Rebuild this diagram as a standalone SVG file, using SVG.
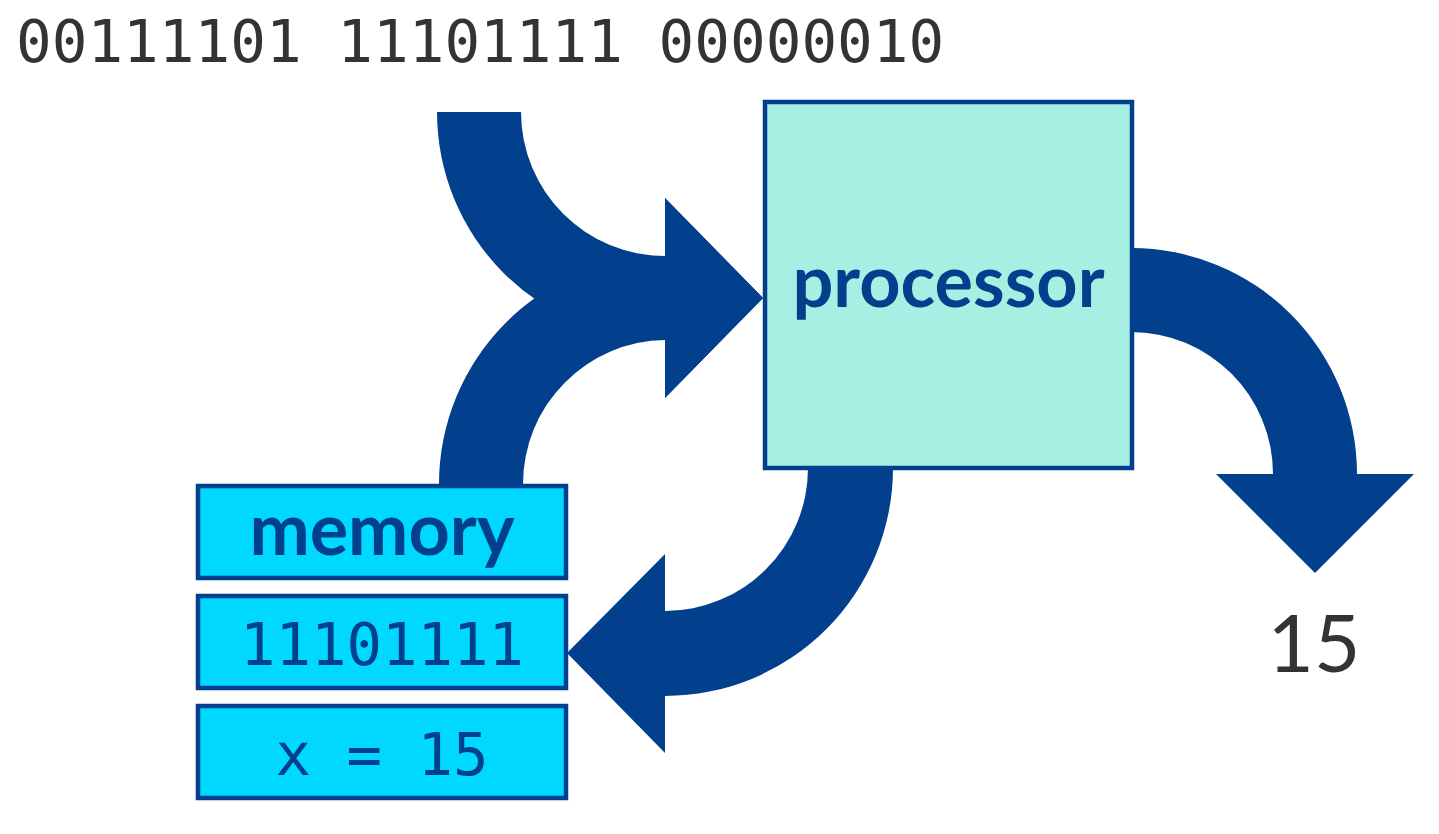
<svg xmlns="http://www.w3.org/2000/svg" width="1439" height="834" viewBox="0 0 1439 834">
<style>
.arrow{fill:#023f8d}
.proc{fill:#a7efe2;stroke:#023f8d;stroke-width:4.5}
.mem{fill:#00d8ff;stroke:#023f8d;stroke-width:4.5}
.label{font-family:Lato,"Open Sans",sans-serif;font-weight:700;fill:#023f8d;text-anchor:middle}
.mono{font-family:"DejaVu Sans Mono","Liberation Mono",monospace;text-anchor:middle}
</style>
<rect width="1439" height="834" fill="#ffffff"/>
<text x="16" y="62" font-family="DejaVu Sans Mono, Liberation Mono, monospace" font-size="59.3" fill="#333333">00111101 11101111 00000010</text>
<g id="connectors">
<path class="arrow" d="M437,112 L521,112 A144 144 0 0 0 665,256 L665,198 L763,298 L665,398 L665,340 A228 228 0 0 1 437,112 Z"/>
<path class="arrow" d="M439,487 L439,484 A228 228 0 0 1 665,256 L665,198 L763,298 L665,398 L665,340 A144 144 0 0 0 523,484 L523,487 Z"/>
<path class="arrow" d="M809,466 L893,466 L893,468 A228 228 0 0 1 665,696 L665,753 L567,653 L665,554 L665,611 A143 143 0 0 0 808,468 Z"/>
<path class="arrow" d="M1129,248 L1131,248 A226 226 0 0 1 1357,474 L1414,474 L1315,573 L1216,474 L1273,474 A142 142 0 0 0 1131,332 L1129,332 Z"/>
</g>
<g id="processor">
<rect class="proc" x="765" y="102" width="367" height="366"/>
<text class="label" x="948.5" y="307" font-size="72">processor</text>
</g>
<g id="memory">
<rect class="mem" x="198" y="486" width="368" height="92"/>
<text class="label" x="382" y="555" font-size="72">memory</text>
</g>
<g id="memory-byte">
<rect class="mem" x="198" y="596" width="368" height="92"/>
<text class="mono" x="382" y="665" font-size="59" fill="#023f8d">11101111</text>
</g>
<g id="memory-var">
<rect class="mem" x="198" y="706" width="368" height="92"/>
<text class="mono" x="382" y="775" font-size="59" fill="#023f8d">x = 15</text>
</g>
<g id="output">
<text x="1314" y="672" font-family="Lato, Open Sans, sans-serif" font-size="80" fill="#333333" text-anchor="middle">15</text>
</g>
</svg>
